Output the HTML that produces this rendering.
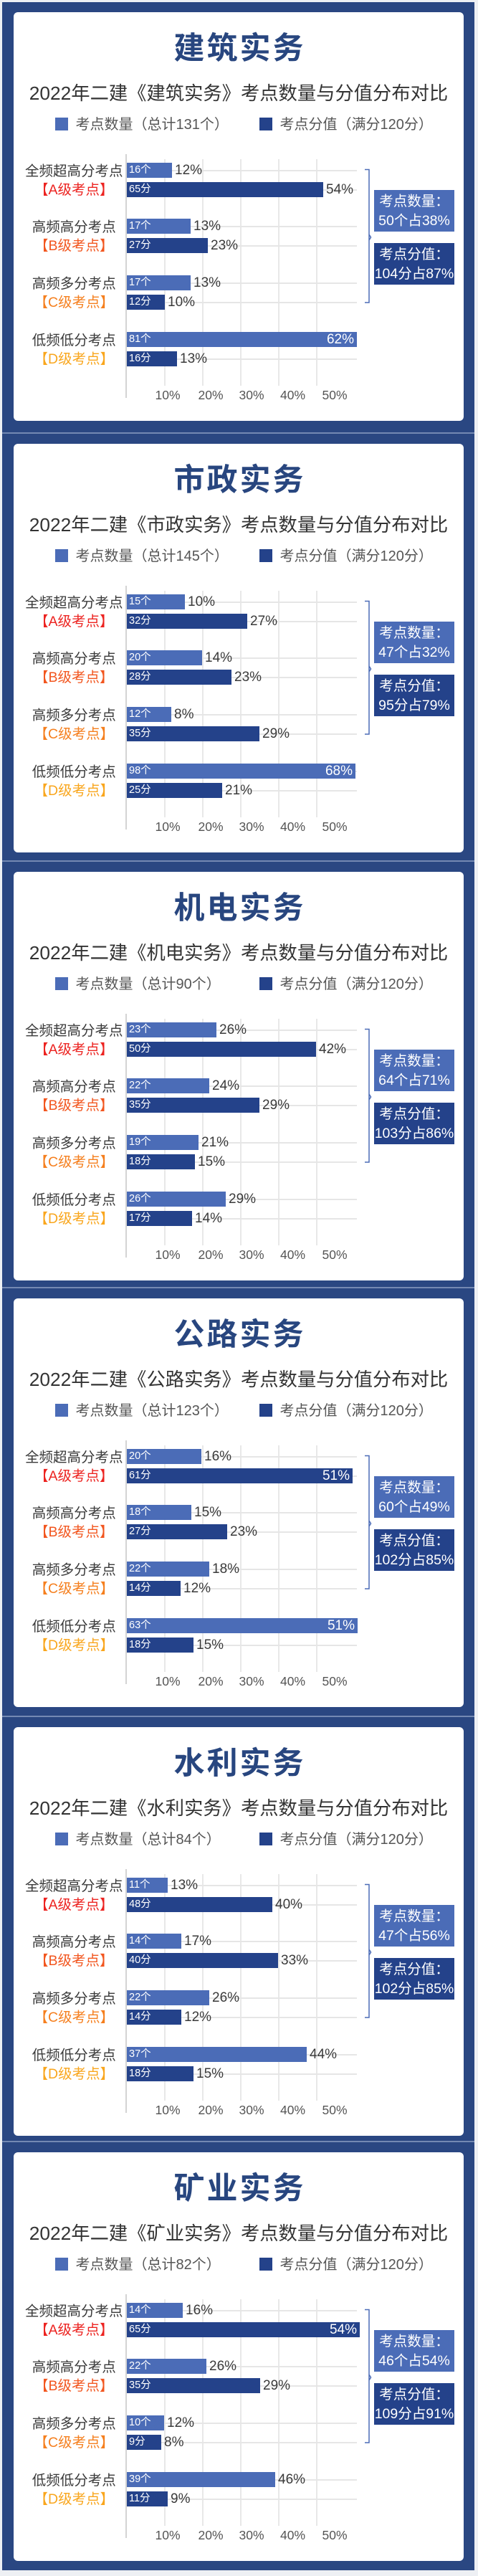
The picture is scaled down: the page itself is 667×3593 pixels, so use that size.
<!DOCTYPE html>
<html><head><meta charset="utf-8">
<style>
*{box-sizing:border-box}
body{margin:0;width:667px;height:3593px;background:#eef0f4;position:relative;overflow:hidden;font-family:"Liberation Sans","Noto Sans CJK SC",sans-serif;}
.frame{position:absolute;left:3px;top:3px;width:659px;height:3582px;background:#2a4782;}
.sep{position:absolute;left:3px;width:659px;height:2px;background:#7489b3;}
.card{position:absolute;left:19px;width:628px;height:570px;background:#fff;border-radius:6px;overflow:hidden;}
.t{position:absolute;left:0;width:628px;text-align:center;top:30px;font-size:43px;line-height:43px;font-weight:bold;color:#28467f;letter-spacing:3px;text-indent:3px;white-space:nowrap;}
.st{position:absolute;left:0;width:628px;text-align:center;top:100px;font-size:26.3px;line-height:26px;color:#333;white-space:nowrap;}
.sq{position:absolute;top:147px;width:18px;height:18px;}
.lg{position:absolute;top:146.5px;font-size:20px;line-height:20px;color:#555;white-space:nowrap;}
.c{background:#4b6cb7}
.s{background:#24428a}
.axis{position:absolute;left:156px;top:198px;width:2px;height:340px;background:#d4d4d4;}
.vg{position:absolute;top:205px;width:2px;height:316px;background:#e8e8e8;}
.hg{position:absolute;left:157px;width:322px;height:2px;background:#e6e6e6;}
.cat{position:absolute;left:0;width:168.6px;text-align:center;font-size:19.5px;line-height:20px;color:#3a3a3a;white-space:nowrap;}
.ra{color:#ec2320}.rb{color:#f2561f}.rc{color:#f57f1e}.rd{color:#f9a61d}
.bar{position:absolute;left:158px;height:21px;}
.bl{position:absolute;left:3px;top:0;line-height:21px;font-size:14.5px;color:#fff;white-space:nowrap;}
.pin{position:absolute;right:4px;top:0;line-height:21px;font-size:19px;color:#fff;white-space:nowrap;}
.pv{position:absolute;line-height:21px;font-size:19px;color:#3a3a3a;white-space:nowrap;}
.xl{position:absolute;top:525px;width:50px;text-align:center;font-size:17.5px;line-height:19px;color:#555;}
.box{position:absolute;left:503px;width:112px;height:58px;color:#fff;font-size:19.5px;line-height:27.3px;text-align:center;padding-top:3px;white-space:nowrap;}
.b1{top:248px;background:#4b6cb7}
.b2{top:322px;background:#24428a}
.br{position:absolute;left:0;top:0;}
</style></head><body>
<div class="frame"></div>
<div class="sep" style="top:603px"></div>
<div class="sep" style="top:1200px"></div>
<div class="sep" style="top:1795px"></div>
<div class="sep" style="top:2393px"></div>
<div class="sep" style="top:2986px"></div>

<!-- Panel 1 -->
<div class="card" style="top:17px">
<div class="t">建筑实务</div>
<div class="st">2022年二建《建筑实务》考点数量与分值分布对比</div>
<div class="sq c" style="left:58px"></div><div class="lg" style="left:86.5px">考点数量（总计131个）</div>
<div class="sq s" style="left:343px"></div><div class="lg" style="left:371.5px">考点分值（满分120分）</div>
<div class="vg" style="left:210px"></div><div class="vg" style="left:263px"></div><div class="vg" style="left:316px"></div><div class="vg" style="left:369px"></div><div class="vg" style="left:422px"></div>
<div class="hg" style="top:219.5px"></div><div class="hg" style="top:246.5px"></div><div class="hg" style="top:297.5px"></div><div class="hg" style="top:324.5px"></div><div class="hg" style="top:376.5px"></div><div class="hg" style="top:403.5px"></div><div class="hg" style="top:455.5px"></div><div class="hg" style="top:482.5px"></div>
<div class="axis"></div>
<div class="cat" style="top:211.5px">全频超高分考点</div><div class="cat ra" style="top:238px">【A级考点】</div>
<div class="cat" style="top:289.5px">高频高分考点</div><div class="cat rb" style="top:316px">【B级考点】</div>
<div class="cat" style="top:368.5px">高频多分考点</div><div class="cat rc" style="top:395px">【C级考点】</div>
<div class="cat" style="top:447.5px">低频低分考点</div><div class="cat rd" style="top:474px">【D级考点】</div>
<div class="bar c" style="top:210px;width:63px"><span class="bl">16个</span></div><div class="pv" style="top:210px;left:225px">12%</div>
<div class="bar s" style="top:237px;width:274px"><span class="bl">65分</span></div><div class="pv" style="top:237px;left:436px">54%</div>
<div class="bar c" style="top:288px;width:89px"><span class="bl">17个</span></div><div class="pv" style="top:288px;left:251px">13%</div>
<div class="bar s" style="top:315px;width:113px"><span class="bl">27分</span></div><div class="pv" style="top:315px;left:275px">23%</div>
<div class="bar c" style="top:367px;width:89px"><span class="bl">17个</span></div><div class="pv" style="top:367px;left:251px">13%</div>
<div class="bar s" style="top:394px;width:53px"><span class="bl">12分</span></div><div class="pv" style="top:394px;left:215px">10%</div>
<div class="bar c" style="top:446px;width:321px"><span class="bl">81个</span><span class="pin">62%</span></div>
<div class="bar s" style="top:473px;width:70px"><span class="bl">16分</span></div><div class="pv" style="top:473px;left:232px">13%</div>
<div class="xl" style="left:190px">10%</div><div class="xl" style="left:250px">20%</div><div class="xl" style="left:307px">30%</div><div class="xl" style="left:364.5px">40%</div><div class="xl" style="left:423px">50%</div>
<svg class="br" width="628" height="570"><path d="M490 219.5 H496 V405 H490 M496 310 L498.5 314 L496 318" fill="none" stroke="#4b6cb7" stroke-width="1.5"/></svg>
<div class="box b1">考点数量：<br>50个占38%</div>
<div class="box b2">考点分值：<br>104分占87%</div>
</div>

<!-- Panel 2 -->
<div class="card" style="top:619px">
<div class="t">市政实务</div>
<div class="st">2022年二建《市政实务》考点数量与分值分布对比</div>
<div class="sq c" style="left:58px"></div><div class="lg" style="left:86.5px">考点数量（总计145个）</div>
<div class="sq s" style="left:343px"></div><div class="lg" style="left:371.5px">考点分值（满分120分）</div>
<div class="vg" style="left:210px"></div><div class="vg" style="left:263px"></div><div class="vg" style="left:316px"></div><div class="vg" style="left:369px"></div><div class="vg" style="left:422px"></div>
<div class="hg" style="top:219.5px"></div><div class="hg" style="top:246.5px"></div><div class="hg" style="top:297.5px"></div><div class="hg" style="top:324.5px"></div><div class="hg" style="top:376.5px"></div><div class="hg" style="top:403.5px"></div><div class="hg" style="top:455.5px"></div><div class="hg" style="top:482.5px"></div>
<div class="axis"></div>
<div class="cat" style="top:211.5px">全频超高分考点</div><div class="cat ra" style="top:238px">【A级考点】</div>
<div class="cat" style="top:289.5px">高频高分考点</div><div class="cat rb" style="top:316px">【B级考点】</div>
<div class="cat" style="top:368.5px">高频多分考点</div><div class="cat rc" style="top:395px">【C级考点】</div>
<div class="cat" style="top:447.5px">低频低分考点</div><div class="cat rd" style="top:474px">【D级考点】</div>
<div class="bar c" style="top:210px;width:81px"><span class="bl">15个</span></div><div class="pv" style="top:210px;left:243px">10%</div>
<div class="bar s" style="top:237px;width:168px"><span class="bl">32分</span></div><div class="pv" style="top:237px;left:330px">27%</div>
<div class="bar c" style="top:288px;width:105px"><span class="bl">20个</span></div><div class="pv" style="top:288px;left:267px">14%</div>
<div class="bar s" style="top:315px;width:146px"><span class="bl">28分</span></div><div class="pv" style="top:315px;left:308px">23%</div>
<div class="bar c" style="top:367px;width:62px"><span class="bl">12个</span></div><div class="pv" style="top:367px;left:224px">8%</div>
<div class="bar s" style="top:394px;width:185px"><span class="bl">35分</span></div><div class="pv" style="top:394px;left:347px">29%</div>
<div class="bar c" style="top:446px;width:319px"><span class="bl">98个</span><span class="pin">68%</span></div>
<div class="bar s" style="top:473px;width:133px"><span class="bl">25分</span></div><div class="pv" style="top:473px;left:295px">21%</div>
<div class="xl" style="left:190px">10%</div><div class="xl" style="left:250px">20%</div><div class="xl" style="left:307px">30%</div><div class="xl" style="left:364.5px">40%</div><div class="xl" style="left:423px">50%</div>
<svg class="br" width="628" height="570"><path d="M490 219.5 H496 V405 H490 M496 310 L498.5 314 L496 318" fill="none" stroke="#4b6cb7" stroke-width="1.5"/></svg>
<div class="box b1">考点数量：<br>47个占32%</div>
<div class="box b2">考点分值：<br>95分占79%</div>
</div>

<!-- Panel 3 -->
<div class="card" style="top:1216px">
<div class="t">机电实务</div>
<div class="st">2022年二建《机电实务》考点数量与分值分布对比</div>
<div class="sq c" style="left:58px"></div><div class="lg" style="left:86.5px">考点数量（总计90个）</div>
<div class="sq s" style="left:343px"></div><div class="lg" style="left:371.5px">考点分值（满分120分）</div>
<div class="vg" style="left:210px"></div><div class="vg" style="left:263px"></div><div class="vg" style="left:316px"></div><div class="vg" style="left:369px"></div><div class="vg" style="left:422px"></div>
<div class="hg" style="top:219.5px"></div><div class="hg" style="top:246.5px"></div><div class="hg" style="top:297.5px"></div><div class="hg" style="top:324.5px"></div><div class="hg" style="top:376.5px"></div><div class="hg" style="top:403.5px"></div><div class="hg" style="top:455.5px"></div><div class="hg" style="top:482.5px"></div>
<div class="axis"></div>
<div class="cat" style="top:211.5px">全频超高分考点</div><div class="cat ra" style="top:238px">【A级考点】</div>
<div class="cat" style="top:289.5px">高频高分考点</div><div class="cat rb" style="top:316px">【B级考点】</div>
<div class="cat" style="top:368.5px">高频多分考点</div><div class="cat rc" style="top:395px">【C级考点】</div>
<div class="cat" style="top:447.5px">低频低分考点</div><div class="cat rd" style="top:474px">【D级考点】</div>
<div class="bar c" style="top:210px;width:125px"><span class="bl">23个</span></div><div class="pv" style="top:210px;left:287px">26%</div>
<div class="bar s" style="top:237px;width:264px"><span class="bl">50分</span></div><div class="pv" style="top:237px;left:426px">42%</div>
<div class="bar c" style="top:288px;width:115px"><span class="bl">22个</span></div><div class="pv" style="top:288px;left:277px">24%</div>
<div class="bar s" style="top:315px;width:185px"><span class="bl">35分</span></div><div class="pv" style="top:315px;left:347px">29%</div>
<div class="bar c" style="top:367px;width:100px"><span class="bl">19个</span></div><div class="pv" style="top:367px;left:262px">21%</div>
<div class="bar s" style="top:394px;width:95px"><span class="bl">18分</span></div><div class="pv" style="top:394px;left:257px">15%</div>
<div class="bar c" style="top:446px;width:138px"><span class="bl">26个</span></div><div class="pv" style="top:446px;left:300px">29%</div>
<div class="bar s" style="top:473px;width:91px"><span class="bl">17分</span></div><div class="pv" style="top:473px;left:253px">14%</div>
<div class="xl" style="left:190px">10%</div><div class="xl" style="left:250px">20%</div><div class="xl" style="left:307px">30%</div><div class="xl" style="left:364.5px">40%</div><div class="xl" style="left:423px">50%</div>
<svg class="br" width="628" height="570"><path d="M490 219.5 H496 V405 H490 M496 310 L498.5 314 L496 318" fill="none" stroke="#4b6cb7" stroke-width="1.5"/></svg>
<div class="box b1">考点数量：<br>64个占71%</div>
<div class="box b2">考点分值：<br>103分占86%</div>
</div>

<!-- Panel 4 -->
<div class="card" style="top:1811px">
<div class="t">公路实务</div>
<div class="st">2022年二建《公路实务》考点数量与分值分布对比</div>
<div class="sq c" style="left:58px"></div><div class="lg" style="left:86.5px">考点数量（总计123个）</div>
<div class="sq s" style="left:343px"></div><div class="lg" style="left:371.5px">考点分值（满分120分）</div>
<div class="vg" style="left:210px"></div><div class="vg" style="left:263px"></div><div class="vg" style="left:316px"></div><div class="vg" style="left:369px"></div><div class="vg" style="left:422px"></div>
<div class="hg" style="top:219.5px"></div><div class="hg" style="top:246.5px"></div><div class="hg" style="top:297.5px"></div><div class="hg" style="top:324.5px"></div><div class="hg" style="top:376.5px"></div><div class="hg" style="top:403.5px"></div><div class="hg" style="top:455.5px"></div><div class="hg" style="top:482.5px"></div>
<div class="axis"></div>
<div class="cat" style="top:211.5px">全频超高分考点</div><div class="cat ra" style="top:238px">【A级考点】</div>
<div class="cat" style="top:289.5px">高频高分考点</div><div class="cat rb" style="top:316px">【B级考点】</div>
<div class="cat" style="top:368.5px">高频多分考点</div><div class="cat rc" style="top:395px">【C级考点】</div>
<div class="cat" style="top:447.5px">低频低分考点</div><div class="cat rd" style="top:474px">【D级考点】</div>
<div class="bar c" style="top:210px;width:104px"><span class="bl">20个</span></div><div class="pv" style="top:210px;left:266px">16%</div>
<div class="bar s" style="top:237px;width:315px"><span class="bl">61分</span><span class="pin">51%</span></div>
<div class="bar c" style="top:288px;width:90px"><span class="bl">18个</span></div><div class="pv" style="top:288px;left:252px">15%</div>
<div class="bar s" style="top:315px;width:140px"><span class="bl">27分</span></div><div class="pv" style="top:315px;left:302px">23%</div>
<div class="bar c" style="top:367px;width:115px"><span class="bl">22个</span></div><div class="pv" style="top:367px;left:277px">18%</div>
<div class="bar s" style="top:394px;width:75px"><span class="bl">14分</span></div><div class="pv" style="top:394px;left:237px">12%</div>
<div class="bar c" style="top:446px;width:322px"><span class="bl">63个</span><span class="pin">51%</span></div>
<div class="bar s" style="top:473px;width:93px"><span class="bl">18分</span></div><div class="pv" style="top:473px;left:255px">15%</div>
<div class="xl" style="left:190px">10%</div><div class="xl" style="left:250px">20%</div><div class="xl" style="left:307px">30%</div><div class="xl" style="left:364.5px">40%</div><div class="xl" style="left:423px">50%</div>
<svg class="br" width="628" height="570"><path d="M490 219.5 H496 V405 H490 M496 310 L498.5 314 L496 318" fill="none" stroke="#4b6cb7" stroke-width="1.5"/></svg>
<div class="box b1">考点数量：<br>60个占49%</div>
<div class="box b2">考点分值：<br>102分占85%</div>
</div>

<!-- Panel 5 -->
<div class="card" style="top:2409px">
<div class="t">水利实务</div>
<div class="st">2022年二建《水利实务》考点数量与分值分布对比</div>
<div class="sq c" style="left:58px"></div><div class="lg" style="left:86.5px">考点数量（总计84个）</div>
<div class="sq s" style="left:343px"></div><div class="lg" style="left:371.5px">考点分值（满分120分）</div>
<div class="vg" style="left:210px"></div><div class="vg" style="left:263px"></div><div class="vg" style="left:316px"></div><div class="vg" style="left:369px"></div><div class="vg" style="left:422px"></div>
<div class="hg" style="top:219.5px"></div><div class="hg" style="top:246.5px"></div><div class="hg" style="top:297.5px"></div><div class="hg" style="top:324.5px"></div><div class="hg" style="top:376.5px"></div><div class="hg" style="top:403.5px"></div><div class="hg" style="top:455.5px"></div><div class="hg" style="top:482.5px"></div>
<div class="axis"></div>
<div class="cat" style="top:211.5px">全频超高分考点</div><div class="cat ra" style="top:238px">【A级考点】</div>
<div class="cat" style="top:289.5px">高频高分考点</div><div class="cat rb" style="top:316px">【B级考点】</div>
<div class="cat" style="top:368.5px">高频多分考点</div><div class="cat rc" style="top:395px">【C级考点】</div>
<div class="cat" style="top:447.5px">低频低分考点</div><div class="cat rd" style="top:474px">【D级考点】</div>
<div class="bar c" style="top:210px;width:57px"><span class="bl">11个</span></div><div class="pv" style="top:210px;left:219px">13%</div>
<div class="bar s" style="top:237px;width:203px"><span class="bl">48分</span></div><div class="pv" style="top:237px;left:365px">40%</div>
<div class="bar c" style="top:288px;width:76px"><span class="bl">14个</span></div><div class="pv" style="top:288px;left:238px">17%</div>
<div class="bar s" style="top:315px;width:211px"><span class="bl">40分</span></div><div class="pv" style="top:315px;left:373px">33%</div>
<div class="bar c" style="top:367px;width:115px"><span class="bl">22个</span></div><div class="pv" style="top:367px;left:277px">26%</div>
<div class="bar s" style="top:394px;width:76px"><span class="bl">14分</span></div><div class="pv" style="top:394px;left:238px">12%</div>
<div class="bar c" style="top:446px;width:251px"><span class="bl">37个</span></div><div class="pv" style="top:446px;left:413px">44%</div>
<div class="bar s" style="top:473px;width:93px"><span class="bl">18分</span></div><div class="pv" style="top:473px;left:255px">15%</div>
<div class="xl" style="left:190px">10%</div><div class="xl" style="left:250px">20%</div><div class="xl" style="left:307px">30%</div><div class="xl" style="left:364.5px">40%</div><div class="xl" style="left:423px">50%</div>
<svg class="br" width="628" height="570"><path d="M490 219.5 H496 V405 H490 M496 310 L498.5 314 L496 318" fill="none" stroke="#4b6cb7" stroke-width="1.5"/></svg>
<div class="box b1">考点数量：<br>47个占56%</div>
<div class="box b2">考点分值：<br>102分占85%</div>
</div>

<!-- Panel 6 -->
<div class="card" style="top:3002px">
<div class="t">矿业实务</div>
<div class="st">2022年二建《矿业实务》考点数量与分值分布对比</div>
<div class="sq c" style="left:58px"></div><div class="lg" style="left:86.5px">考点数量（总计82个）</div>
<div class="sq s" style="left:343px"></div><div class="lg" style="left:371.5px">考点分值（满分120分）</div>
<div class="vg" style="left:210px"></div><div class="vg" style="left:263px"></div><div class="vg" style="left:316px"></div><div class="vg" style="left:369px"></div><div class="vg" style="left:422px"></div>
<div class="hg" style="top:219.5px"></div><div class="hg" style="top:246.5px"></div><div class="hg" style="top:297.5px"></div><div class="hg" style="top:324.5px"></div><div class="hg" style="top:376.5px"></div><div class="hg" style="top:403.5px"></div><div class="hg" style="top:455.5px"></div><div class="hg" style="top:482.5px"></div>
<div class="axis"></div>
<div class="cat" style="top:211.5px">全频超高分考点</div><div class="cat ra" style="top:238px">【A级考点】</div>
<div class="cat" style="top:289.5px">高频高分考点</div><div class="cat rb" style="top:316px">【B级考点】</div>
<div class="cat" style="top:368.5px">高频多分考点</div><div class="cat rc" style="top:395px">【C级考点】</div>
<div class="cat" style="top:447.5px">低频低分考点</div><div class="cat rd" style="top:474px">【D级考点】</div>
<div class="bar c" style="top:210px;width:78px"><span class="bl">14个</span></div><div class="pv" style="top:210px;left:240px">16%</div>
<div class="bar s" style="top:237px;width:325px"><span class="bl">65分</span><span class="pin">54%</span></div>
<div class="bar c" style="top:288px;width:111px"><span class="bl">22个</span></div><div class="pv" style="top:288px;left:273px">26%</div>
<div class="bar s" style="top:315px;width:186px"><span class="bl">35分</span></div><div class="pv" style="top:315px;left:348px">29%</div>
<div class="bar c" style="top:367px;width:52px"><span class="bl">10个</span></div><div class="pv" style="top:367px;left:214px">12%</div>
<div class="bar s" style="top:394px;width:48px"><span class="bl">9分</span></div><div class="pv" style="top:394px;left:210px">8%</div>
<div class="bar c" style="top:446px;width:207px"><span class="bl">39个</span></div><div class="pv" style="top:446px;left:369px">46%</div>
<div class="bar s" style="top:473px;width:57px"><span class="bl">11分</span></div><div class="pv" style="top:473px;left:219px">9%</div>
<div class="xl" style="left:190px">10%</div><div class="xl" style="left:250px">20%</div><div class="xl" style="left:307px">30%</div><div class="xl" style="left:364.5px">40%</div><div class="xl" style="left:423px">50%</div>
<svg class="br" width="628" height="570"><path d="M490 219.5 H496 V405 H490 M496 310 L498.5 314 L496 318" fill="none" stroke="#4b6cb7" stroke-width="1.5"/></svg>
<div class="box b1">考点数量：<br>46个占54%</div>
<div class="box b2">考点分值：<br>109分占91%</div>
</div>

</body></html>
